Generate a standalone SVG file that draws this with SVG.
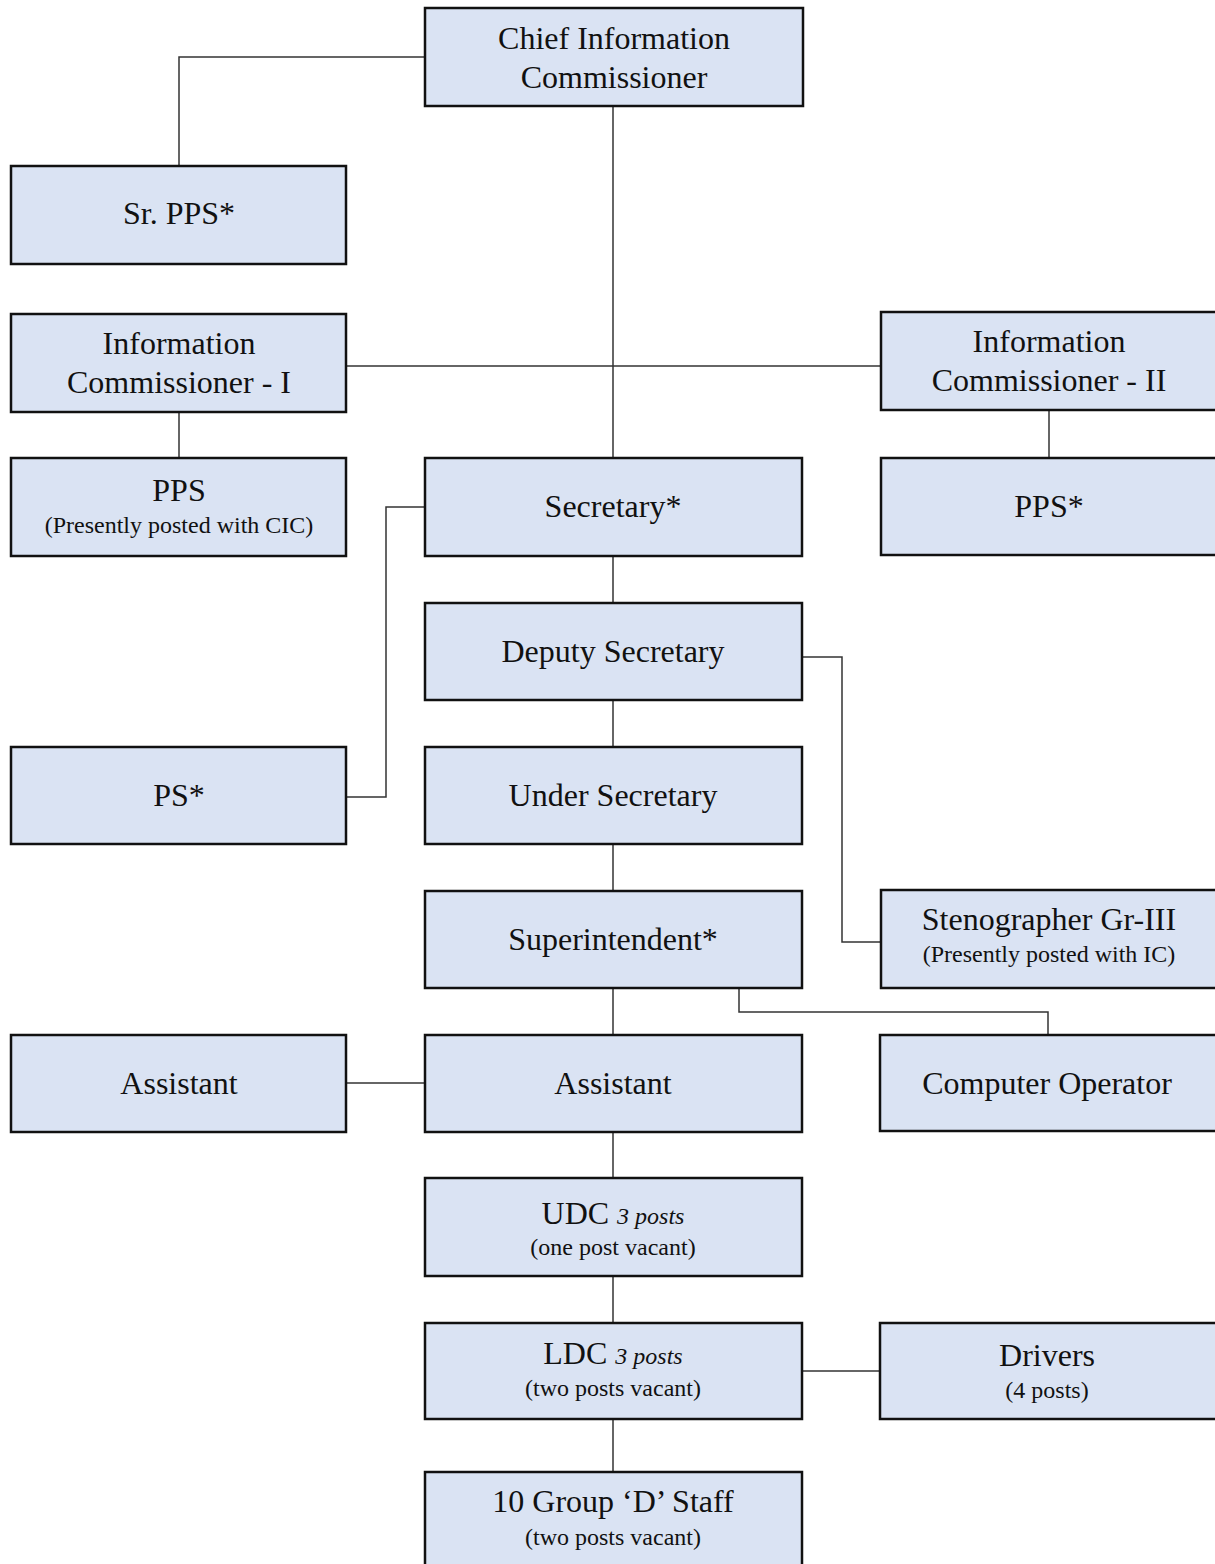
<svg xmlns="http://www.w3.org/2000/svg" width="1215" height="1564" viewBox="0 0 1215 1564">
<style>
.box{fill:#dae3f3;stroke:#111;stroke-width:2.5}
.t{font-family:"Liberation Serif","Times New Roman",serif;font-size:32px;fill:#111;text-anchor:middle}
.s{font-family:"Liberation Serif","Times New Roman",serif;font-size:24px;fill:#111;text-anchor:middle}
.i{font-style:italic;font-size:24px}
.c{fill:none;stroke:#333;stroke-width:1.5}
</style>
<rect width="1215" height="1564" fill="#fff"/>
<g id="connectors">
<polyline class="c" points="425,57 179,57 179,166"/>
<line class="c" x1="613" y1="106" x2="613" y2="458"/>
<line class="c" x1="346" y1="366" x2="881" y2="366"/>
<line class="c" x1="179" y1="412" x2="179" y2="458"/>
<line class="c" x1="1049" y1="410" x2="1049" y2="458"/>
<polyline class="c" points="425,507 386,507 386,797 346,797"/>
<line class="c" x1="613" y1="556" x2="613" y2="603"/>
<polyline class="c" points="802,657 842,657 842,942 881,942"/>
<line class="c" x1="613" y1="700" x2="613" y2="747"/>
<line class="c" x1="613" y1="844" x2="613" y2="891"/>
<line class="c" x1="613" y1="988" x2="613" y2="1035"/>
<polyline class="c" points="739,988 739,1012 1048,1012 1048,1035"/>
<line class="c" x1="346" y1="1083" x2="425" y2="1083"/>
<line class="c" x1="613" y1="1132" x2="613" y2="1178"/>
<line class="c" x1="613" y1="1276" x2="613" y2="1323"/>
<line class="c" x1="802" y1="1371" x2="880" y2="1371"/>
<line class="c" x1="613" y1="1419" x2="613" y2="1472"/>
</g>
<g id="cic"><rect class="box" x="425" y="8" width="378" height="98"/><text class="t" x="614" y="49">Chief Information</text><text class="t" x="614" y="88">Commissioner</text></g>
<g id="srpps"><rect class="box" x="11" y="166" width="335" height="98"/><text class="t" x="179" y="224">Sr. PPS*</text></g>
<g id="ic1"><rect class="box" x="11" y="314" width="335" height="98"/><text class="t" x="179" y="354">Information</text><text class="t" x="179" y="393">Commissioner - I</text></g>
<g id="ic2"><rect class="box" x="881" y="312" width="336" height="98"/><text class="t" x="1049" y="352">Information</text><text class="t" x="1049" y="391">Commissioner - II</text></g>
<g id="pps"><rect class="box" x="11" y="458" width="335" height="98"/><text class="t" x="179" y="501">PPS</text><text class="s" x="179" y="533">(Presently posted with CIC)</text></g>
<g id="secretary"><rect class="box" x="425" y="458" width="377" height="98"/><text class="t" x="613" y="517">Secretary*</text></g>
<g id="pps2"><rect class="box" x="881" y="458" width="336" height="97"/><text class="t" x="1049" y="517">PPS*</text></g>
<g id="deputy"><rect class="box" x="425" y="603" width="377" height="97"/><text class="t" x="613" y="662">Deputy Secretary</text></g>
<g id="ps"><rect class="box" x="11" y="747" width="335" height="97"/><text class="t" x="179" y="806">PS*</text></g>
<g id="under"><rect class="box" x="425" y="747" width="377" height="97"/><text class="t" x="613" y="806">Under Secretary</text></g>
<g id="superintendent"><rect class="box" x="425" y="891" width="377" height="97"/><text class="t" x="613" y="950">Superintendent*</text></g>
<g id="steno"><rect class="box" x="881" y="890" width="336" height="98"/><text class="t" x="1049" y="930">Stenographer Gr-III</text><text class="s" x="1049" y="962">(Presently posted with IC)</text></g>
<g id="assistant1"><rect class="box" x="11" y="1035" width="335" height="97"/><text class="t" x="179" y="1094">Assistant</text></g>
<g id="assistant2"><rect class="box" x="425" y="1035" width="377" height="97"/><text class="t" x="613" y="1094">Assistant</text></g>
<g id="computer"><rect class="box" x="880" y="1035" width="337" height="96"/><text class="t" x="1047" y="1094">Computer Operator</text></g>
<g id="udc"><rect class="box" x="425" y="1178" width="377" height="98"/><text class="t" x="613" y="1224">UDC <tspan class="i">3 posts</tspan></text><text class="s" x="613" y="1255">(one post vacant)</text></g>
<g id="ldc"><rect class="box" x="425" y="1323" width="377" height="96"/><text class="t" x="613" y="1364">LDC <tspan class="i">3 posts</tspan></text><text class="s" x="613" y="1396">(two posts vacant)</text></g>
<g id="drivers"><rect class="box" x="880" y="1323" width="337" height="96"/><text class="t" x="1047" y="1366">Drivers</text><text class="s" x="1047" y="1398">(4 posts)</text></g>
<g id="groupd"><rect class="box" x="425" y="1472" width="377" height="100"/><text class="t" x="613" y="1512">10 Group ‘D’ Staff</text><text class="s" x="613" y="1545">(two posts vacant)</text></g>
</svg>
